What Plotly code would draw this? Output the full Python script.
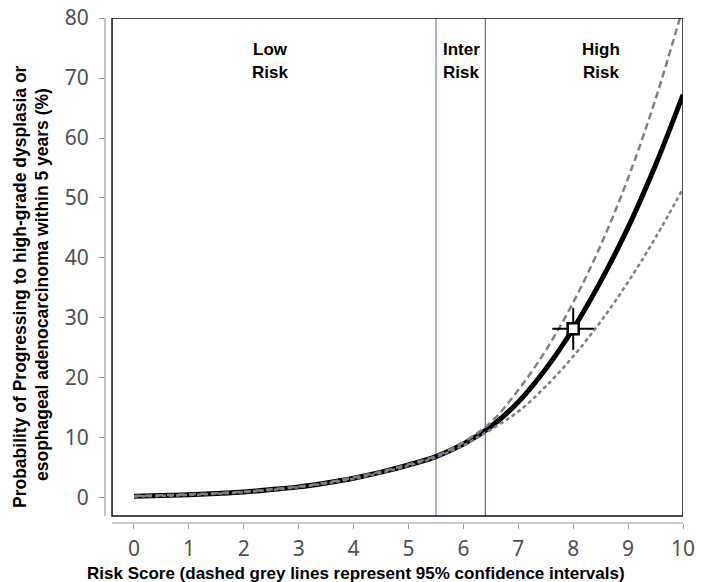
import plotly.graph_objects as go

# ---- data ----
risk_score = [0, 0.5, 1, 1.5, 2, 2.5, 3, 3.5, 4, 4.5, 5, 5.5, 6, 6.5, 7, 7.5, 8, 8.5, 9, 9.5, 10]
prob_main = [0.3, 0.4, 0.55, 0.75, 1.0, 1.4, 1.85, 2.5, 3.3, 4.3, 5.5, 6.9, 9.0, 11.9, 16.0, 21.5, 28.2, 36.1, 45.1, 55.5, 67.2]
prob_upper = [0.35, 0.45, 0.6, 0.8, 1.05, 1.45, 1.9, 2.55, 3.4, 4.4, 5.6, 7.0, 9.3, 12.6, 18.0, 24.6, 32.6, 42.1, 53.3, 66.5, 81.8]
prob_lower = [0.25, 0.35, 0.5, 0.7, 0.95, 1.35, 1.8, 2.45, 3.2, 4.2, 5.4, 6.8, 8.8, 11.4, 14.4, 18.6, 23.6, 29.4, 36.0, 43.4, 51.6]

marker_x = [8]
marker_y = [28.2]

cutoffs = [5.5, 6.4]
cutoff_colors = ["#7878ff", "#5a5ae6"]

region_top = ["Low", "Inter", "High"]
region_bottom = ["Risk", "Risk", "Risk"]
region_x = [2.48, 5.96, 8.5]

x_ticks = list(range(0, 11))
y_ticks = list(range(0, 81, 10))

x_title = "Risk Score (dashed grey lines represent 95% confidence intervals)"
y_title_1 = "Probability of Progressing to high-grade dysplasia or"
y_title_2 = "esophageal adenocarcinoma within 5 years (%)"

# ---- figure ----
fig = go.Figure()

fig.add_trace(go.Scatter(x=risk_score, y=prob_main, mode="lines",
                         line=dict(color="black", width=5, shape="spline"),
                         hoverinfo="skip"))
fig.add_trace(go.Scatter(x=risk_score, y=prob_upper, mode="lines",
                         line=dict(color="#808080", width=2.5, dash="7px,4px", shape="spline"),
                         hoverinfo="skip"))
fig.add_trace(go.Scatter(x=risk_score, y=prob_lower, mode="lines",
                         line=dict(color="#808080", width=2.5, dash="4px,3px", shape="spline"),
                         hoverinfo="skip"))
fig.add_trace(go.Scatter(x=marker_x, y=marker_y, mode="markers",
                         marker=dict(symbol="square", size=11, color="white",
                                     line=dict(color="black", width=2.5)),
                         error_x=dict(type="constant", value=0.38, width=0, thickness=2, color="black"),
                         error_y=dict(type="constant", value=3.5, width=0, thickness=2, color="black"),
                         hoverinfo="skip"))

XMIN_BOX, XMAX_BOX = -0.4, 10
YMIN_BOX, YMAX_BOX = -3, 80

W, H = 707, 582
ML, MR, MT, MB = 105, 24, 18, 59
pw, ph = W - ML - MR, H - MT - MB


def px_to_paper_x(p):
    return (p - ML) / pw


def px_to_paper_y(p):
    return (H - MB - p) / ph


shapes = []
for cx, cc in zip(cutoffs, cutoff_colors):
    shapes.append(dict(type="line", xref="x", yref="y", x0=cx, x1=cx, y0=YMIN_BOX, y1=YMAX_BOX,
                       line=dict(color=cc, width=1.2), layer="below"))
shapes.append(dict(type="rect", xref="x", yref="y", x0=XMIN_BOX, x1=XMAX_BOX, y0=YMIN_BOX, y1=YMAX_BOX,
                   line=dict(color="#111111", width=1.5), layer="above"))
# offset axis lines
shapes.append(dict(type="line", xref="paper", yref="y", x0=0, x1=0, y0=YMIN_BOX, y1=YMAX_BOX,
                   line=dict(color="#999999", width=1.2)))
shapes.append(dict(type="line", xref="x", yref="paper", x0=XMIN_BOX, x1=XMAX_BOX, y0=0, y1=0,
                   line=dict(color="#999999", width=1.2)))

annotations = []
lab_font = dict(family="Liberation Sans, Arial, sans-serif", size=17, color="black")
for t, b, rx in zip(region_top, region_bottom, region_x):
    annotations.append(dict(x=rx, y=74.7, xref="x", yref="y", text="<b>%s</b>" % t, showarrow=False,
                            font=lab_font, xanchor="center", yanchor="middle"))
    annotations.append(dict(x=rx, y=71.0, xref="x", yref="y", text="<b>%s</b>" % b, showarrow=False,
                            font=lab_font, xanchor="center", yanchor="middle"))

xt_font = dict(family="Liberation Sans, Arial, sans-serif", size=17, color="black")
yt_font = dict(family="Liberation Sans, Arial, sans-serif", size=17.5, color="black")
annotations.append(dict(x=px_to_paper_x(356), y=px_to_paper_y(573), xref="paper", yref="paper",
                        text="<b>%s</b>" % x_title, showarrow=False, font=xt_font,
                        xanchor="center", yanchor="middle"))
annotations.append(dict(x=px_to_paper_x(20), y=px_to_paper_y(287), xref="paper", yref="paper",
                        text="<b>%s</b>" % y_title_1, showarrow=False, font=yt_font, textangle=-90,
                        xanchor="center", yanchor="middle"))
annotations.append(dict(x=px_to_paper_x(42), y=px_to_paper_y(285), xref="paper", yref="paper",
                        text="<b>%s</b>" % y_title_2, showarrow=False, font=yt_font, textangle=-90,
                        xanchor="center", yanchor="middle"))

tick_font = dict(family="Noto Sans, sans-serif", size=21, color="#505050")

fig.update_layout(
    width=W, height=H,
    margin=dict(l=ML, r=MR, t=MT, b=MB, pad=0, autoexpand=False),
    paper_bgcolor="white", plot_bgcolor="white",
    showlegend=False,
    shapes=shapes,
    annotations=annotations,
    xaxis=dict(range=[-0.528, 10.0], tickvals=x_ticks, ticks="outside", ticklen=5, tickwidth=1,
               tickcolor="#999999", showline=False, showgrid=False, zeroline=False,
               tickfont=tick_font, ticklabelstandoff=2),
    yaxis=dict(range=[-4.17, 80.0], tickvals=y_ticks, ticks="outside", ticklen=5, tickwidth=1,
               tickcolor="#999999", showline=False, showgrid=False, zeroline=False,
               tickfont=tick_font, ticklabelstandoff=6),
)

fig.write_html("out.html", config={"displayModeBar": False},
               post_script="document.body.style.margin='0';document.body.style.overflow='hidden';")
